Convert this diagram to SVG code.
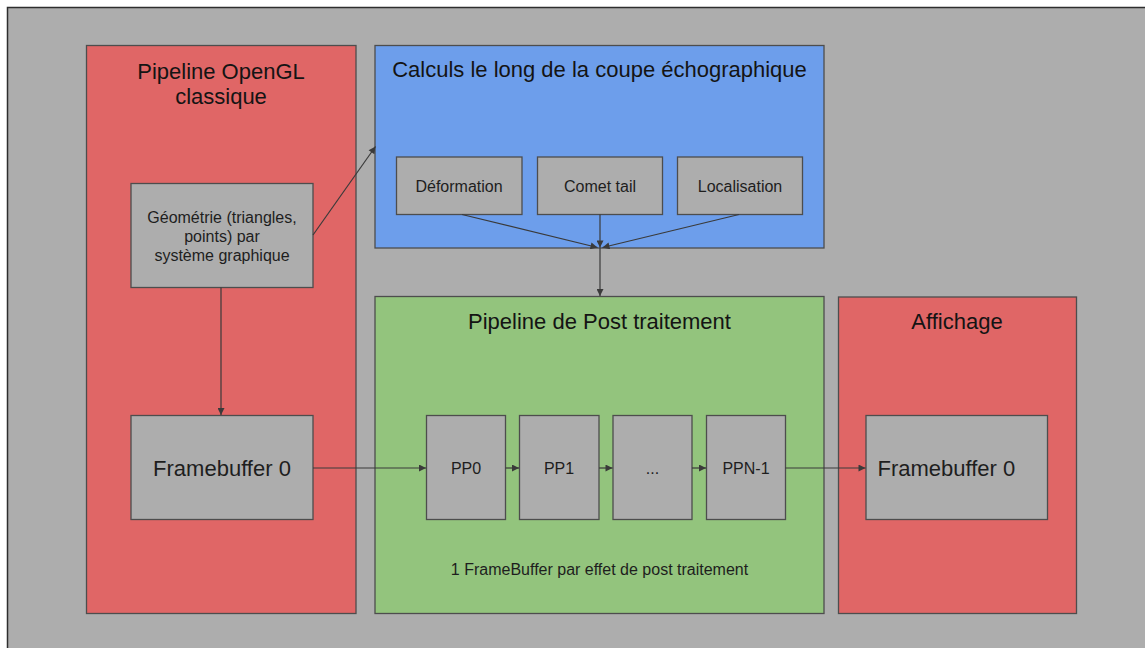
<svg xmlns="http://www.w3.org/2000/svg" width="1145" height="648" viewBox="0 0 1145 648">
  <defs>
    <marker id="arrow" viewBox="0 0 10 10" refX="10" refY="5" markerWidth="8" markerHeight="7" markerUnits="userSpaceOnUse" orient="auto">
      <path d="M0,0 L10,5 L0,10 Z" fill="#3a3a3a"/>
    </marker>
    <style>
      .frame { stroke: #4d4d4d; stroke-width: 1.3; }
      .red { fill: #e06666; }
      .blue { fill: #6d9eeb; }
      .green { fill: #93c47d; }
      .gray { fill: #adadad; }
      .title { font-family: "Liberation Sans", Arial, sans-serif; font-size: 22px; fill: #141414; text-anchor: middle; }
      .label { font-family: "Liberation Sans", Arial, sans-serif; font-size: 16px; fill: #1e1e1e; text-anchor: middle; }
      .big { font-family: "Liberation Sans", Arial, sans-serif; font-size: 22px; fill: #1e1e1e; }
      .link { stroke: #3a3a3a; stroke-width: 1.2; fill: none; }
    </style>
  </defs>

  <!-- page -->
  <rect x="0" y="0" width="1145" height="648" fill="#ffffff"/>
  <rect x="7.5" y="7.5" width="1150" height="660" fill="#adadad" stroke="#2e2e2e" stroke-width="1.5"/>

  <!-- classic OpenGL pipeline -->
  <g id="opengl">
    <rect class="red frame" x="86.5" y="45.5" width="269.5" height="568"/>
    <text class="title" x="221" y="79">Pipeline OpenGL</text>
    <text class="title" x="221" y="104">classique</text>
  </g>
  <g id="geometrie">
    <rect class="gray frame" x="131" y="183.5" width="182" height="104"/>
    <text class="label" x="222" y="223">Géométrie (triangles,</text>
    <text class="label" x="222" y="242">points) par</text>
    <text class="label" x="222" y="261">système graphique</text>
  </g>
  <g id="framebuffer-in">
    <rect class="gray frame" x="131" y="415.5" width="182" height="104"/>
    <text class="big" x="222" y="476" text-anchor="middle">Framebuffer 0</text>
  </g>

  <!-- computations along the ultrasound slice -->
  <g id="calculs">
    <rect class="blue frame" x="375" y="45.5" width="449" height="202.5"/>
    <text class="title" x="599.5" y="77">Calculs le long de la coupe échographique</text>
  </g>
  <g id="deformation">
    <rect class="gray frame" x="396.5" y="157" width="125.5" height="57.5"/>
    <text class="label" x="459" y="192">Déformation</text>
  </g>
  <g id="comet-tail">
    <rect class="gray frame" x="537.5" y="157" width="125" height="57.5"/>
    <text class="label" x="600" y="192">Comet tail</text>
  </g>
  <g id="localisation">
    <rect class="gray frame" x="677.5" y="157" width="125" height="57.5"/>
    <text class="label" x="740" y="192">Localisation</text>
  </g>

  <!-- post-processing pipeline -->
  <g id="post">
    <rect class="green frame" x="375" y="296.5" width="449" height="317"/>
    <text class="title" x="599.5" y="328.5">Pipeline de Post traitement</text>
    <text class="label" x="599.5" y="575">1 FrameBuffer par effet de post traitement</text>
  </g>
  <g id="pp0">
    <rect class="gray frame" x="426.5" y="415.5" width="79" height="104"/>
    <text class="label" x="466" y="473.5">PP0</text>
  </g>
  <g id="pp1">
    <rect class="gray frame" x="519.5" y="415.5" width="79.5" height="104"/>
    <text class="label" x="559" y="473.5">PP1</text>
  </g>
  <g id="pp-etc">
    <rect class="gray frame" x="613" y="415.5" width="79" height="104"/>
    <text class="label" x="652.5" y="473.5">...</text>
  </g>
  <g id="ppn-1">
    <rect class="gray frame" x="706.5" y="415.5" width="79" height="104"/>
    <text class="label" x="746" y="473.5">PPN-1</text>
  </g>

  <!-- display -->
  <g id="affichage">
    <rect class="red frame" x="838.5" y="297" width="238" height="316.5"/>
    <text class="title" x="957" y="328.5">Affichage</text>
  </g>
  <g id="framebuffer-out">
    <rect class="gray frame" x="866" y="415.5" width="181.5" height="104"/>
    <text class="big" x="877.5" y="476">Framebuffer 0</text>
  </g>

  <!-- connectors -->
  <g id="connectors">
    <line class="link" x1="313" y1="235" x2="375.5" y2="146.5" marker-end="url(#arrow)"/>
    <line class="link" x1="221" y1="287.5" x2="221" y2="415" marker-end="url(#arrow)"/>
    <line class="link" x1="462" y1="214.5" x2="597.5" y2="247.5" marker-end="url(#arrow)"/>
    <line class="link" x1="600" y1="214.5" x2="600" y2="247.5" marker-end="url(#arrow)"/>
    <line class="link" x1="739" y1="214.5" x2="602.5" y2="247.5" marker-end="url(#arrow)"/>
    <line class="link" x1="600" y1="247.5" x2="600" y2="296" marker-end="url(#arrow)"/>
    <line class="link" x1="313" y1="468" x2="426" y2="468" marker-end="url(#arrow)"/>
    <line class="link" x1="505.5" y1="468" x2="519" y2="468" marker-end="url(#arrow)"/>
    <line class="link" x1="599" y1="468" x2="612.5" y2="468" marker-end="url(#arrow)"/>
    <line class="link" x1="692" y1="468" x2="706" y2="468" marker-end="url(#arrow)"/>
    <line class="link" x1="785.5" y1="468" x2="865.5" y2="468" marker-end="url(#arrow)"/>
  </g>
</svg>
